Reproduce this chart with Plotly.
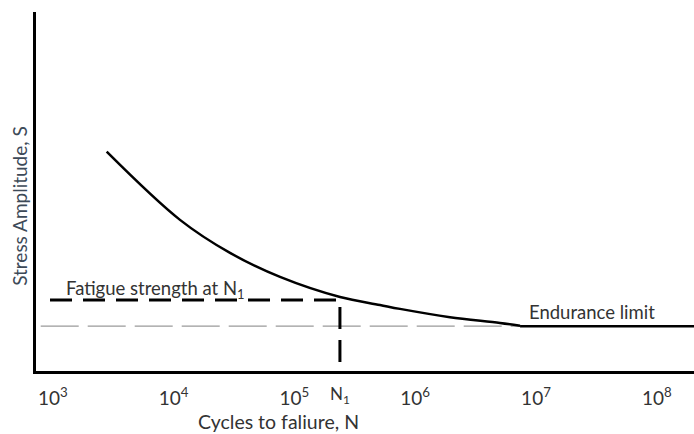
import numpy as np
import plotly.graph_objects as go

# ---- data (x in log10(N), y in relative stress units 0-100) ----
curve_logN = [3.446, 4.053, 4.467, 4.881, 5.378, 5.709, 5.874, 6.288, 6.702, 6.868]
curve_S = [61.1, 42.1, 32.9, 26.2, 20.6, 18.4, 17.3, 15.0, 13.4, 12.6]

endurance_S = 12.5
endurance_start_logN = 6.868
N1_logN = 5.377
fatigue_S = 19.8
fatigue_start_logN = 2.977
gray_start_logN = 2.90

x_range = [2.861, 8.308]
y_range = [0, 100]

tick_exponents = [3, 4, 5, 6, 7, 8]
tick_text = [f"10<sup>{e}</sup>" for e in tick_exponents]

FONT = "Lato"
TXT = "#333333"

fig = go.Figure()

# thin gray dashed line at the endurance level
fig.add_trace(go.Scatter(
    x=[gray_start_logN, endurance_start_logN], y=[endurance_S, endurance_S],
    mode="lines", line=dict(color="#9a9a9a", width=1.2, dash="38px,9px"),
    hoverinfo="skip", showlegend=False))

# thick dashed fatigue strength L
fig.add_trace(go.Scatter(
    x=[fatigue_start_logN, N1_logN, N1_logN], y=[fatigue_S, fatigue_S, 0],
    mode="lines", line=dict(color="black", width=3, dash="22px,11px"),
    hoverinfo="skip", showlegend=False))

# S-N curve
fig.add_trace(go.Scatter(
    x=curve_logN, y=curve_S, mode="lines",
    line=dict(color="black", width=2.5, shape="spline", smoothing=1.0),
    hoverinfo="skip", showlegend=False))

# endurance limit solid line
fig.add_trace(go.Scatter(
    x=[endurance_start_logN, x_range[1]], y=[endurance_S, endurance_S],
    mode="lines", line=dict(color="black", width=2.5),
    hoverinfo="skip", showlegend=False))

fig.add_annotation(x=3.854, y=22.8, text="Fatigue strength at N<sub>1</sub>",
                   showarrow=False, font=dict(family=FONT, size=18.5, color=TXT),
                   xanchor="center", yanchor="middle")
fig.add_annotation(x=7.464, y=16.4, text="Endurance limit",
                   showarrow=False, font=dict(family=FONT, size=18.5, color=TXT),
                   xanchor="center", yanchor="middle")
fig.add_annotation(x=N1_logN, y=0, xref="x", yref="paper", text="N<sub>1</sub>",
                   showarrow=False, font=dict(family=FONT, size=17, color=TXT),
                   xanchor="center", yanchor="top", yshift=-10)
fig.add_annotation(x=0.368, y=-0.142, xref="paper", yref="paper",
                   text="Cycles to faliure, N", showarrow=False,
                   font=dict(family=FONT, size=19.5, color=TXT),
                   xanchor="center", yanchor="middle")
fig.add_annotation(x=-0.0243, y=0.46, xref="paper", yref="paper",
                   text="Stress Amplitude, S", textangle=-90, showarrow=False,
                   font=dict(family=FONT, size=19, color="#3d4a58"),
                   xanchor="center", yanchor="middle")

fig.update_xaxes(range=x_range, showgrid=False, zeroline=False,
                 showline=True, linecolor="black", linewidth=2.5,
                 tickvals=tick_exponents, ticktext=tick_text, ticks="",
                 ticklabelstandoff=8,
                 tickfont=dict(family=FONT, size=19, color=TXT))
fig.update_yaxes(range=y_range, showgrid=False, zeroline=False,
                 showline=True, linecolor="black", linewidth=2.5,
                 showticklabels=False, ticks="")

fig.update_layout(width=694, height=434, margin=dict(l=36, r=0, t=12, b=63),
                  plot_bgcolor="white", paper_bgcolor="white")

fig.write_html("out.html")
